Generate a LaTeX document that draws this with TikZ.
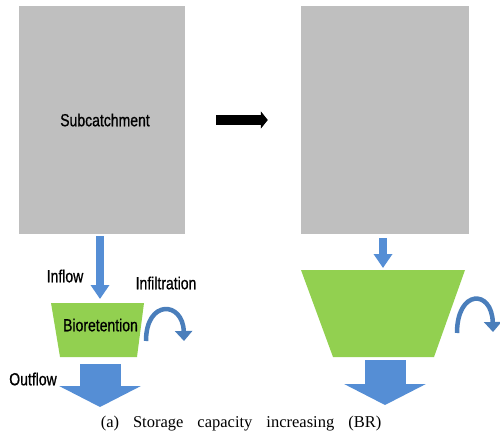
\documentclass[tikz,border=0pt]{standalone}
\usepackage{fontspec}
\usetikzlibrary{arrows.meta}
\newfontfamily\labelfont[FakeStretch=0.8,FakeBold=0.8,Ligatures=NoCommon]{Liberation Sans}
\newfontfamily\capfont{Liberation Serif}
\definecolor{catchgray}{HTML}{BFBFBF}
\definecolor{biogreen}{HTML}{92D050}
\definecolor{flowblue}{HTML}{558ED5}
\definecolor{infblue}{HTML}{4A7EBB}
\tikzset{
    catch/.style={fill=catchgray, minimum width=166pt, minimum height=228pt, inner sep=0pt, font=\labelfont\fontsize{17.5}{20}\selectfont},
    lbl/.style={font=\labelfont\fontsize{17.5}{20}\selectfont},
    inflow/.style={flowblue, line width=8pt, -{Triangle[width=18pt,length=14pt]}},
    outflow/.style={flowblue, line width=41pt, -{Triangle[width=81pt,length=21pt]}},
    infil/.style={infblue, line width=4.5pt, -{Triangle[width=17pt,length=10pt]}}
}
\begin{document}
\begin{tikzpicture}[x=1pt,y=-1pt]
    \useasboundingbox (0,0) rectangle (500,436);

    % subcatchment before and after
    \node[catch] (sub) at (102,120) {\hspace{6pt}Subcatchment};
    \node[catch, minimum width=168pt] (sub2) at (385,120) {};
    \draw[line width=10pt, -{Triangle[width=17pt,length=7pt]}, shorten <=31pt, shorten >=33pt] (sub.east) -- (sub2.west);

    % bioretention before
    \fill[biogreen] (51,303) coordinate (biotop) -- (144,303) -- (137,357) -- (60,357) coordinate (biobot) -- cycle;
    \node[lbl] (bio) at (100.5,325) {Bioretention};
    \draw[inflow, shorten <=2pt, shorten >=4pt] ([xshift=-2pt]sub.south) -- ([xshift=-2pt]sub.south |- biotop);
    \coordinate (out) at (100,407);
    \draw[outflow, shorten <=7pt] (biobot -| out) -- (out);
    \coordinate (inf1) at (146,341);
    \coordinate (inf2) at (184,341);
    \draw[infil] (inf1) .. controls (146,299) and (183,301) .. (inf2);
    \node[lbl] (inlbl) at (65,276) {Inflow};
    \node[lbl] (inflbl) at (166,283) {Infiltration};
    \node[lbl] (outlbl) at (33,379) {Outflow};

    % bioretention after
    \fill[biogreen] (301,270) coordinate (bio2top) -- (465,270) -- (434,357) -- (333,357) coordinate (bio2bot) -- cycle;
    \coordinate (in2) at (383,270);
    \draw[inflow, shorten <=4pt, shorten >=2pt] (in2 |- sub2.south) -- (in2);
    \coordinate (out2) at (385,405);
    \draw[outflow, shorten <=3pt] (bio2bot -| out2) -- (out2);
    \coordinate (inf3) at (457,333);
    \coordinate (inf4) at (493,332);
    \draw[infil] (inf3) .. controls (457,289) and (492,289) .. (inf4);

    % caption
    \node[font=\capfont\fontsize{16.5}{20}\selectfont] (cap) at (241,424) {\spaceskip=14pt plus 1pt (a) Storage capacity increasing (BR)};

\end{tikzpicture}
\end{document}
